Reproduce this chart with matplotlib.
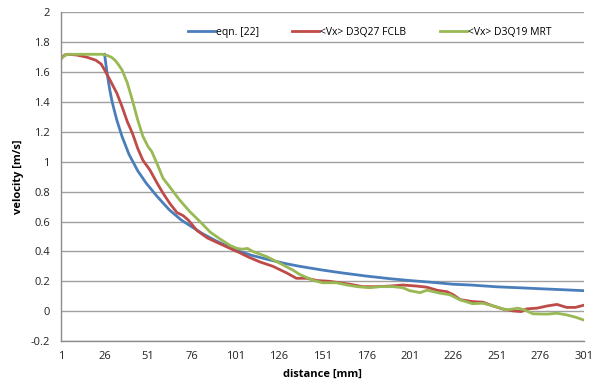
import matplotlib
matplotlib.use("Agg")
import matplotlib.pyplot as plt

# distance [mm] / velocity [m/s] pairs
EQN_D = [26, 27, 28, 29, 30, 31, 33, 36, 40, 45, 50, 56, 63, 70, 76, 82, 90,
         101, 110, 120, 130, 138, 151, 161, 176, 190, 201, 215, 226, 236, 251,
         265, 276, 290, 301]
EQN_V = [1.72, 1.63, 1.55, 1.48, 1.42, 1.37, 1.28, 1.17, 1.05, 0.94, 0.855,
         0.77, 0.68, 0.61, 0.565, 0.52, 0.47, 0.41, 0.375, 0.345, 0.318, 0.30,
         0.275, 0.258, 0.235, 0.217, 0.205, 0.192, 0.18, 0.175, 0.163, 0.156,
         0.15, 0.143, 0.137]

FCLB_D = [1, 3, 5, 10, 16, 21, 24, 26, 29, 33, 36, 39, 42, 45, 48, 52, 56,
          59.5, 63.5, 67.5, 71, 74, 79, 85, 90.5, 98, 103.7, 108, 115, 122.6,
          130.6, 136, 142, 147.8, 155, 161, 166.8, 174, 182, 189.7, 197, 205,
          211, 216.7, 222.4, 226, 230, 237, 243, 248.8, 254.5, 260, 265, 268,
          274, 280, 285.5, 291, 296, 301]
FCLB_V = [1.69, 1.715, 1.72, 1.715, 1.70, 1.68, 1.655, 1.615, 1.55, 1.46,
          1.37, 1.27, 1.19, 1.09, 1.01, 0.945, 0.86, 0.79, 0.72, 0.66, 0.64,
          0.61, 0.54, 0.49, 0.46, 0.42, 0.39, 0.365, 0.33, 0.30, 0.255, 0.22,
          0.22, 0.205, 0.20, 0.19, 0.18, 0.164, 0.164, 0.168, 0.175, 0.168,
          0.16, 0.14, 0.13, 0.11, 0.077, 0.064, 0.06, 0.035, 0.014, 0.002,
          -0.003, 0.015, 0.02, 0.035, 0.045, 0.025, 0.025, 0.04]

MRT_D = [1, 3, 5, 10, 15, 20, 25, 28, 30, 32, 34, 36, 39, 42, 45, 48, 51, 53,
         56, 59.5, 63.5, 69, 75, 80.7, 86.5, 92, 98, 102, 105, 108, 111, 119,
         126.6, 134, 138, 142, 146, 151, 159, 165, 171, 178, 184, 191.5, 197,
         201, 207, 211, 218.5, 224, 230, 237, 243, 248.8, 256.8, 263, 267,
         271.7, 279.8, 285.5, 291, 296, 301]
MRT_V = [1.69, 1.71, 1.72, 1.72, 1.72, 1.72, 1.72, 1.71, 1.70, 1.68, 1.65,
         1.615, 1.53, 1.41, 1.28, 1.17, 1.10, 1.07, 0.99, 0.89, 0.83, 0.745,
         0.665, 0.60, 0.53, 0.485, 0.44, 0.42, 0.415, 0.42, 0.40, 0.365, 0.32,
         0.275, 0.245, 0.225, 0.205, 0.19, 0.19, 0.175, 0.164, 0.157, 0.164,
         0.164, 0.157, 0.137, 0.124, 0.14, 0.12, 0.11, 0.075, 0.05, 0.053,
         0.035, 0.008, 0.02, 0.008, -0.018, -0.02, -0.014, -0.025, -0.04,
         -0.06]

X_TICKS = list(range(1, 302, 25))
Y_TICKS = [-0.2, 0, 0.2, 0.4, 0.6, 0.8, 1, 1.2, 1.4, 1.6, 1.8, 2]
Y_LABELS = ["-0.2", "0", "0.2", "0.4", "0.6", "0.8", "1", "1.2", "1.4",
            "1.6", "1.8", "2"]

plt.rcParams["font.family"] = ["Open Sans", "DejaVu Sans"]

fig = plt.figure(figsize=(5.94, 3.90), dpi=100)
ax = fig.add_axes([0.1027, 0.1256, 0.8805, 0.8424])

ax.plot(EQN_D, EQN_V, color="#4A7EBB", lw=2.0, label="eqn. [22]")
ax.plot(FCLB_D, FCLB_V, color="#BE4B48", lw=2.0, label="<Vx> D3Q27 FCLB")
ax.plot(MRT_D, MRT_V, color="#98B954", lw=2.0, label="<Vx> D3Q19 MRT")

ax.set_xlim(1, 301)
ax.set_ylim(-0.2, 2)
ax.set_xticks(X_TICKS)
ax.set_yticks(Y_TICKS)
ax.set_yticklabels(Y_LABELS)
ax.tick_params(length=0, labelsize=8, colors="#222222")
ax.tick_params(axis="x", pad=7)
ax.tick_params(axis="y", pad=8)
ax.grid(axis="y", color="#A0A0A0", lw=1)
ax.set_axisbelow(True)
for side in ("top", "right"):
    ax.spines[side].set_visible(False)
for side in ("left", "bottom"):
    ax.spines[side].set_color("#8C8C8C")
    ax.spines[side].set_linewidth(1)

ax.set_xlabel("distance [mm]", fontsize=8, fontweight="bold", labelpad=5)
ax.set_ylabel("velocity [m/s]", fontsize=8, fontweight="bold", labelpad=5)

ax.legend(loc="upper center", bbox_to_anchor=(0.59, 0.985), ncol=3,
          frameon=False, fontsize=7.5, handlelength=2.6, handletextpad=0.1,
          columnspacing=3.2)

fig.savefig("out.png", dpi=100)
